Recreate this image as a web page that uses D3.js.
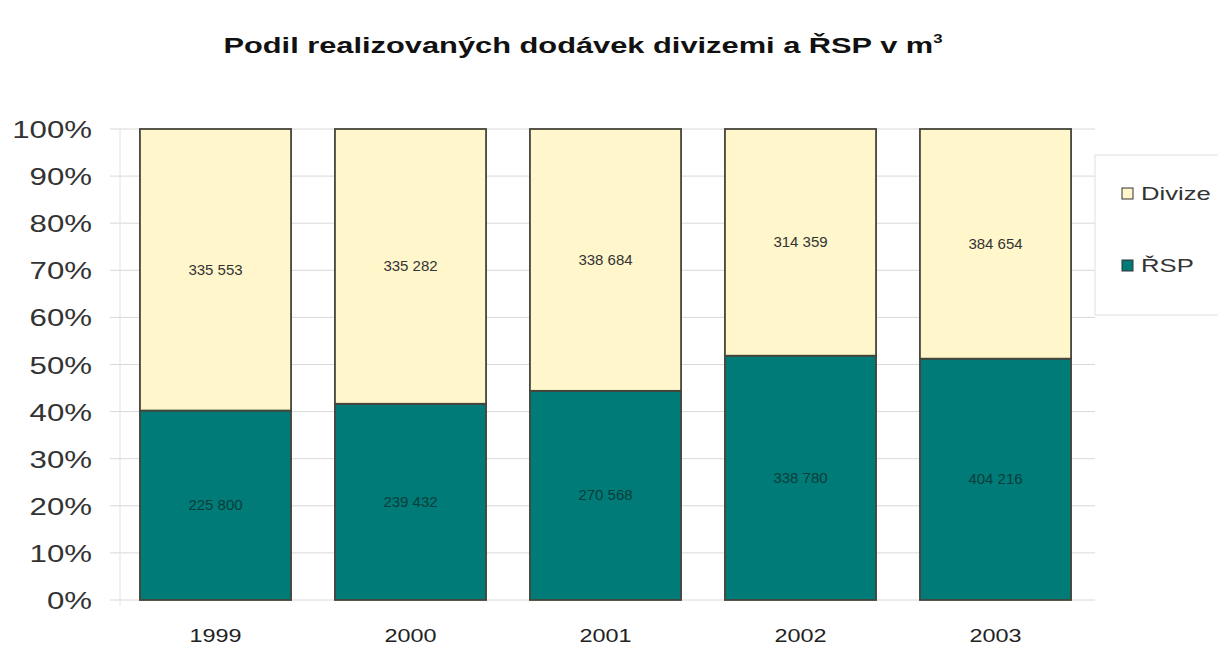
<!DOCTYPE html>
<html>
<head>
<meta charset="utf-8">
<script src="https://cdn.jsdelivr.net/npm/d3@7"></script>
<style>
  body { margin: 0; background: #fff; }
  svg { font-family: "Liberation Sans", Arial, sans-serif; }
  .grid line { stroke: #d8d8d8; }
  .ylab text { font-size: 24px; fill: #333; }
  .xlab text { font-size: 18px; fill: #222; }
  .val { font-size: 15px; }
</style>
</head>
<body>
<svg id="chart" width="1218" height="647"></svg>
<script>
const years = ["1999", "2000", "2001", "2002", "2003"];
const rsp = [225800, 239432, 270568, 338780, 404216];
const divize = [335553, 335282, 338684, 314359, 384654];
const seriesNames = ["ŘSP", "Divize"];
const colors = ["#007b77", "#fff7cb"];
const yTicks = [0, 0.1, 0.2, 0.3, 0.4, 0.5, 0.6, 0.7, 0.8, 0.9, 1];

const plotLeft = 118, plotRight = 1093, plotTop = 129, plotBottom = 600;
const svg = d3.select("#chart");

// the original picture is stretched sideways, so widen the text the same way
function widen(sel, f) {
    sel.each(function() {
        const len = this.getComputedTextLength();
        d3.select(this).attr("textLength", len * f).attr("lengthAdjust", "spacingAndGlyphs");
    });
}

const rows = years.map(function(y, i) {
    return { year: y, "ŘSP": rsp[i], "Divize": divize[i] };
});

const stack = d3.stack().keys(seriesNames).offset(d3.stackOffsetExpand);
const series = stack(rows);

const x = d3.scaleBand().domain(years).range([plotLeft, plotRight]).paddingInner(0.225).paddingOuter(0.1125);
const y = d3.scaleLinear().domain([0, 1]).range([plotBottom, plotTop]);

// gridlines
svg.append("g").attr("class", "grid")
    .selectAll("line").data(yTicks).enter().append("line")
    .attr("x1", 110).attr("x2", 1095)
    .attr("y1", function(d) { return y(d); })
    .attr("y2", function(d) { return y(d); });

svg.append("line")
    .attr("x1", 120).attr("x2", 120)
    .attr("y1", plotTop).attr("y2", plotBottom + 6)
    .attr("stroke", "#e2e2e2");

// y labels
svg.append("g").attr("class", "ylab")
    .selectAll("text").data(yTicks).enter().append("text")
    .attr("x", 92)
    .attr("y", function(d) { return y(d) + 9; })
    .attr("text-anchor", "end")
    .text(function(d) { return Math.round(d * 100) + "%"; })
    .call(widen, 1.3);

// x labels
svg.append("g").attr("class", "xlab")
    .selectAll("text").data(years).enter().append("text")
    .attr("x", function(d) { return x(d) + x.bandwidth() / 2; })
    .attr("y", 642)
    .attr("text-anchor", "middle")
    .text(function(d) { return d; })
    .call(widen, 1.3);

// bars
const groups = svg.selectAll(".serie")
    .data(series)
    .enter().append("g")
    .attr("class", "serie")
    .attr("fill", function(d, i) { return colors[i]; });

groups.selectAll("rect")
    .data(function(d) { return d; })
    .enter().append("rect")
    .attr("x", function(d) { return x(d.data.year); })
    .attr("y", function(d) { return y(d[1]); })
    .attr("width", x.bandwidth())
    .attr("height", function(d) { return y(d[0]) - y(d[1]); })
    .attr("stroke", "#45453a")
    .attr("stroke-width", 1.8);

groups.selectAll(".val")
    .data(function(d) { return d.map(function(p) { return { p: p, key: d.key }; }); })
    .enter().append("text")
    .attr("class", "val")
    .attr("x", function(d) { return x(d.p.data.year) + x.bandwidth() / 2; })
    .attr("y", function(d) { return y((d.p[0] + d.p[1]) / 2) + 5; })
    .attr("text-anchor", "middle")
    .attr("fill", function(d) { return d.key === "ŘSP" ? "#0a3d3b" : "#333"; })
    .text(function(d) { return d3.format(",")(d.p.data[d.key]).replace(/,/g, " "); });

// title
const title = svg.append("text")
    .attr("x", 583).attr("y", 53)
    .attr("text-anchor", "middle")
    .attr("font-size", "22px")
    .attr("font-weight", "bold")
    .attr("fill", "#111");
title.append("tspan").text("Podil realizovaných dodávek divizemi a ŘSP v m");
title.append("tspan").attr("font-size", "12px").attr("dy", -10).text("3");
title.call(widen, 1.4);

// legend
svg.append("rect")
    .attr("x", 1095).attr("y", 155).attr("width", 130).attr("height", 160)
    .attr("fill", "#fff").attr("stroke", "#e0e0e0");

const legendItems = ["Divize", "ŘSP"];
const legend = svg.selectAll(".leg").data(legendItems).enter().append("g")
    .attr("class", "leg")
    .attr("transform", function(d, i) { return "translate(1122," + (194 + i * 72) + ")"; });
legend.append("rect")
    .attr("x", 0).attr("y", -6).attr("width", 11).attr("height", 11)
    .attr("fill", function(d) { return colors[seriesNames.indexOf(d)]; })
    .attr("stroke", "#333").attr("stroke-width", 1);
legend.append("text")
    .attr("x", 19).attr("y", 6)
    .attr("font-size", "19px").attr("fill", "#333")
    .text(function(d) { return d; })
    .call(widen, 1.35);
</script>
</body>
</html>
